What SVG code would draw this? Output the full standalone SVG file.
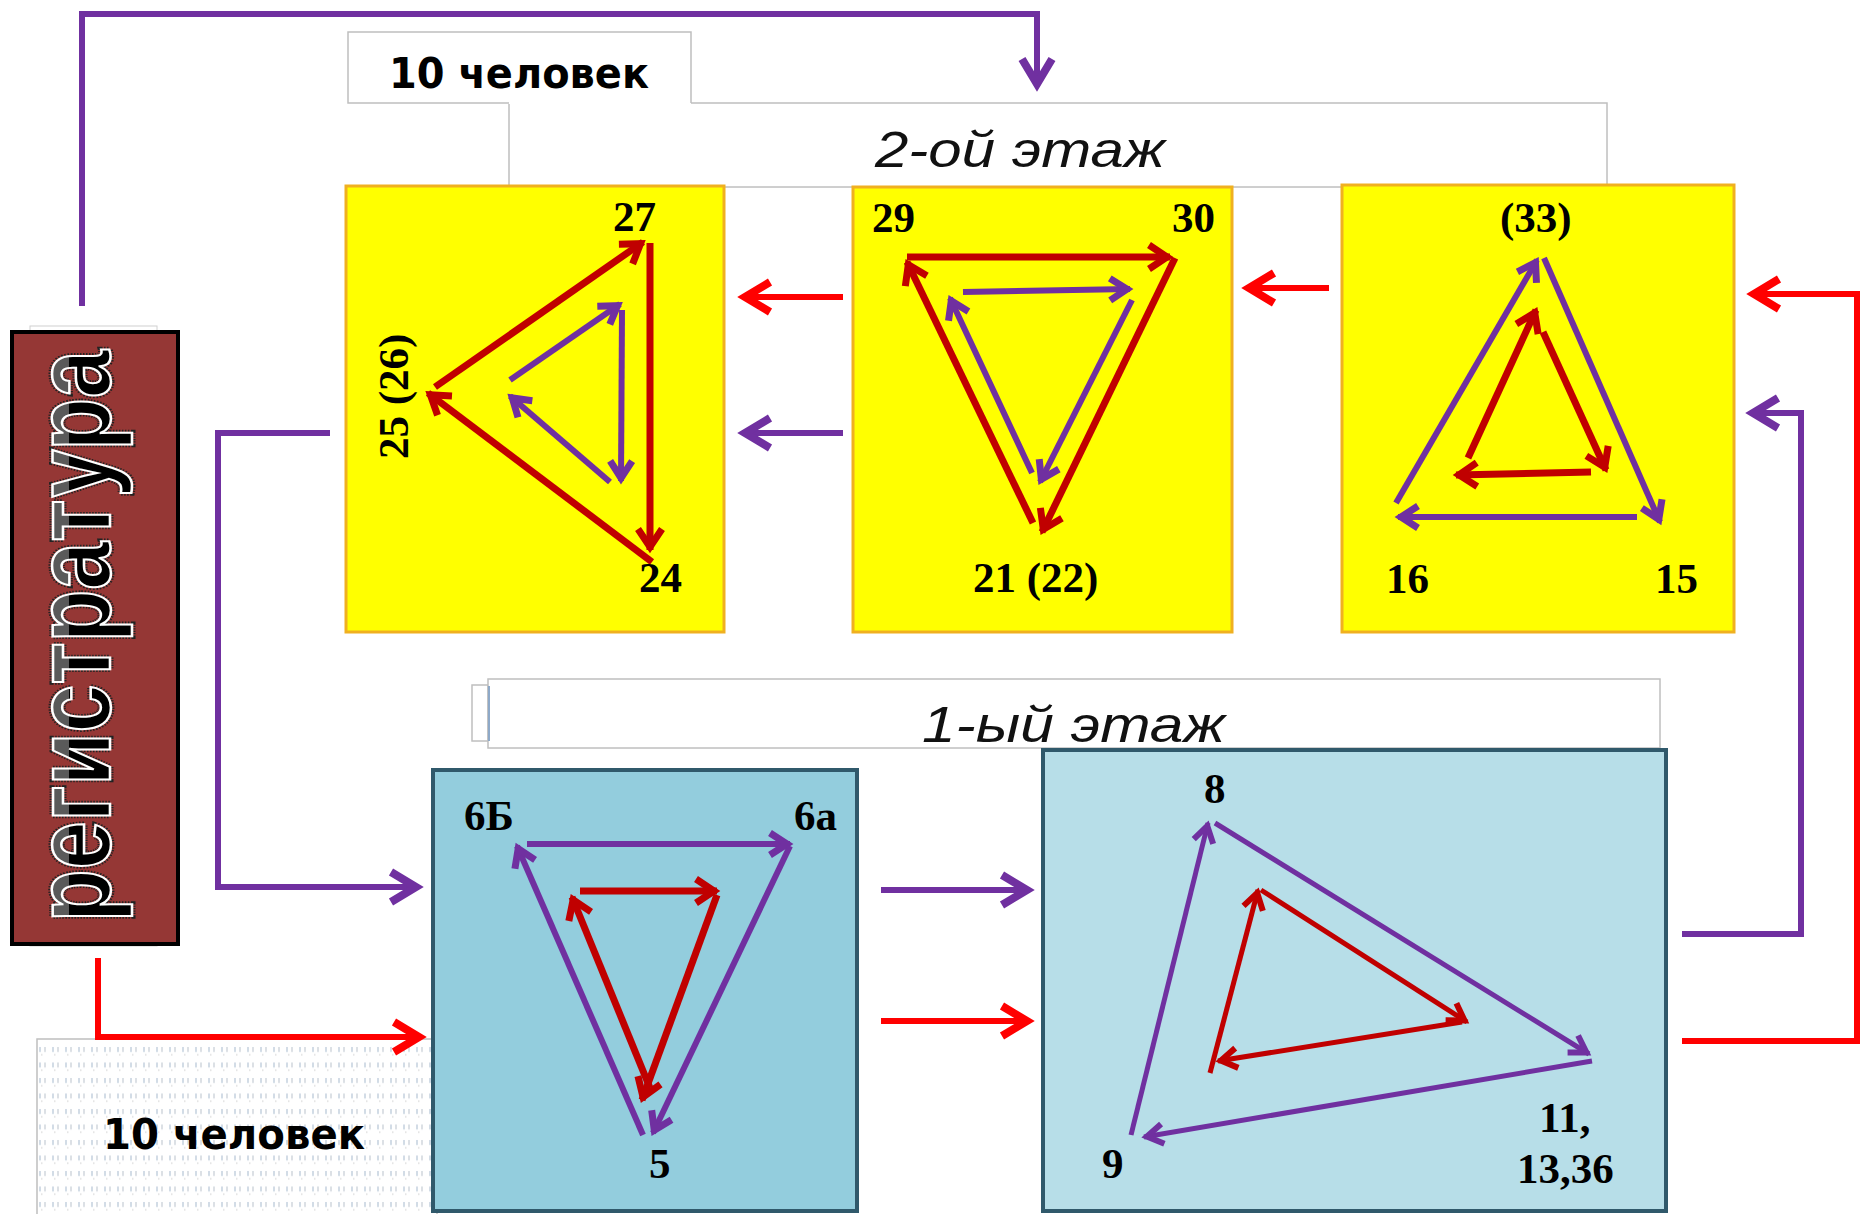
<svg xmlns="http://www.w3.org/2000/svg" width="1861" height="1214" viewBox="0 0 1861 1214">
<style>
.lbl{font-family:"Liberation Serif","Times New Roman",serif;font-weight:bold;font-size:43px;fill:#000}
.floor{font-family:"Liberation Sans",Arial,sans-serif;font-style:italic;font-size:50px;fill:#111}
.ppl{font-family:"DejaVu Sans","Liberation Sans",sans-serif;font-weight:bold;font-size:42px;fill:#000}
.ybox{fill:#FFFF00;stroke:#F0B020;stroke-width:3}
.bbox{stroke:#30596B;stroke-width:4}
.wbox{fill:#fff;stroke:#BFBFBF;stroke-width:1.5}
.cr{fill:none;stroke:#FF0000;stroke-width:6;marker-end:url(#mcr)}
.cp{fill:none;stroke:#7030A0;stroke-width:6;marker-end:url(#mcp)}
.tr{fill:none;stroke:#C00000;stroke-width:7;marker-end:url(#mtr)}
.tp{fill:none;stroke:#7030A0;stroke-width:6;marker-end:url(#mtp)}
.tr2{fill:none;stroke:#C00000;stroke-width:5;marker-end:url(#mtr2)}
.tp2{fill:none;stroke:#7030A0;stroke-width:5;marker-end:url(#mtp2)}
</style>
<defs>
<marker id="mcr" markerUnits="userSpaceOnUse" orient="auto" viewBox="-40 -25 50 50" markerWidth="50" markerHeight="50" refX="0" refY="0"><path d="M-28,-15 L-3,0 L-28,15" fill="none" stroke="#FF0000" stroke-width="8"/></marker>
<marker id="mcp" markerUnits="userSpaceOnUse" orient="auto" viewBox="-40 -25 50 50" markerWidth="50" markerHeight="50" refX="0" refY="0"><path d="M-28,-15 L-3,0 L-28,15" fill="none" stroke="#7030A0" stroke-width="8"/></marker>
<marker id="mtr" markerUnits="userSpaceOnUse" orient="auto" viewBox="-40 -25 50 50" markerWidth="50" markerHeight="50" refX="0" refY="0"><path d="M-21,-12 L-3,0 L-21,12" fill="none" stroke="#C00000" stroke-width="7"/></marker>
<marker id="mtp" markerUnits="userSpaceOnUse" orient="auto" viewBox="-40 -25 50 50" markerWidth="50" markerHeight="50" refX="0" refY="0"><path d="M-20,-11 L-3,0 L-20,11" fill="none" stroke="#7030A0" stroke-width="7"/></marker>
<marker id="mtr2" markerUnits="userSpaceOnUse" orient="auto" viewBox="-40 -25 50 50" markerWidth="50" markerHeight="50" refX="0" refY="0"><path d="M-19,-10 L-3,0 L-19,10" fill="none" stroke="#C00000" stroke-width="6"/></marker>
<marker id="mtp2" markerUnits="userSpaceOnUse" orient="auto" viewBox="-40 -25 50 50" markerWidth="50" markerHeight="50" refX="0" refY="0"><path d="M-19,-10 L-3,0 L-19,10" fill="none" stroke="#7030A0" stroke-width="6"/></marker>
<linearGradient id="regGrad" x1="0" y1="0" x2="0" y2="1">
<stop offset="0" stop-color="#5a5a5a"/><stop offset="0.47" stop-color="#5a5a5a"/><stop offset="0.47" stop-color="#000"/><stop offset="1" stop-color="#000"/>
</linearGradient>
<pattern id="noise" patternUnits="userSpaceOnUse" x="37" y="1046" width="13" height="15.5">
<rect x="2" y="1" width="2" height="5" fill="#b4c4d6"/>
<rect x="7" y="1" width="2" height="5" fill="#c4ccd4"/>
<rect x="4" y="8" width="1.5" height="1.5" fill="#c8c8c8"/>
</pattern>
</defs>

<g id="floor2-label">
<rect x="509" y="103" width="1098" height="84" class="wbox"/>
<text x="875" y="167" class="floor" textLength="290" lengthAdjust="spacingAndGlyphs">2-ой этаж</text>
</g>
<g id="people-top">
<rect x="348" y="32" width="343" height="72" fill="#fff"/>
<path d="M509,103 H348 V32 H691 V103" fill="none" stroke="#BFBFBF" stroke-width="1.5"/>
<text x="389" y="88" class="ppl" textLength="260" lengthAdjust="spacingAndGlyphs">10 человек</text>
</g>
<g id="floor1-label">
<rect x="472" y="685" width="16" height="56" class="wbox"/>
<rect x="488" y="679" width="1172" height="69" class="wbox"/>
<line x1="489" y1="686" x2="489" y2="741" stroke="#8EA9C8" stroke-width="2"/>
<text x="922" y="742" class="floor" textLength="303" lengthAdjust="spacingAndGlyphs">1-ый этаж</text>
</g>

<g id="reg">
<rect x="30" y="326" width="127" height="620" fill="#fff" stroke="#D0D0D0" stroke-width="1"/>
<rect x="12" y="332" width="166" height="612" fill="#953735" stroke="#000" stroke-width="4"/>
<g transform="translate(110,922) rotate(-90)">
<text x="0" y="0" font-family="Liberation Sans, Arial, sans-serif" font-weight="bold" font-size="108" textLength="572" lengthAdjust="spacingAndGlyphs" fill="none" stroke="#222" stroke-width="7" stroke-dasharray="1.5 1.5">регистратура</text>
<text x="0" y="0" font-family="Liberation Sans, Arial, sans-serif" font-weight="bold" font-size="108" textLength="572" lengthAdjust="spacingAndGlyphs" fill="url(#regGrad)" stroke="#fff" stroke-width="2.5">регистратура</text>
</g>
</g>

<g id="people-bottom">
<rect x="37" y="1039" width="400" height="190" class="wbox"/>
<rect x="38" y="1046" width="396" height="170" fill="url(#noise)" opacity="0.6"/>
<text x="103" y="1149" class="ppl" textLength="262" lengthAdjust="spacingAndGlyphs">10 человек</text>
</g>

<g id="room-27-24-25">
<rect x="346" y="186" width="378" height="446" class="ybox"/>
<path class="tr" d="M435,387 L643,242"/>
<path class="tr" d="M650,243 L650,550"/>
<path class="tr" d="M652,562 L428,393"/>
<path class="tp" d="M510,380 L620,304"/>
<path class="tp" d="M622,310 L621,481"/>
<path class="tp" d="M610,482 L510,396"/>
<text x="613" y="231" class="lbl">27</text>
<text x="639" y="592" class="lbl">24</text>
<text transform="translate(408,459) rotate(-90)" class="lbl">25 (26)</text>
</g>

<g id="room-29-30-21">
<rect x="853" y="187" width="379" height="445" class="ybox"/>
<path class="tr" d="M907,257 L1170,257"/>
<path class="tr" d="M1175,258 L1042,532"/>
<path class="tr" d="M1033,523 L907,262"/>
<path class="tp" d="M963,292 L1130,289"/>
<path class="tp" d="M1132,300 L1040,482"/>
<path class="tp" d="M1032,473 L950,298"/>
<text x="872" y="232" class="lbl">29</text>
<text x="1172" y="232" class="lbl">30</text>
<text x="973" y="592" class="lbl">21 (22)</text>
</g>

<g id="room-33-16-15">
<rect x="1342" y="185" width="392" height="447" class="ybox"/>
<path class="tp" d="M1396,503 L1537,260"/>
<path class="tp" d="M1544,258 L1660,522"/>
<path class="tp" d="M1637,517 L1398,517"/>
<path class="tr" d="M1468,458 L1536,310"/>
<path class="tr" d="M1543,332 L1606,470"/>
<path class="tr" d="M1591,472 L1456,475"/>
<text x="1500" y="232" class="lbl">(33)</text>
<text x="1386" y="593" class="lbl">16</text>
<text x="1655" y="593" class="lbl">15</text>
</g>

<g id="room-6b-6a-5">
<rect x="433" y="770" width="424" height="441" class="bbox" fill="#93CDDD"/>
<path class="tp" d="M527,844 L790,844"/>
<path class="tp" d="M790,846 L653,1133"/>
<path class="tp" d="M643,1135 L517,846"/>
<path class="tr" d="M580,891 L717,891"/>
<path class="tr" d="M717,895 L642,1100"/>
<path class="tr" d="M650,1088 L572,897"/>
<text x="464" y="830" class="lbl">6Б</text>
<text x="794" y="830" class="lbl">6а</text>
<text x="649" y="1178" class="lbl">5</text>
</g>

<g id="room-8-9-11">
<rect x="1043" y="750" width="623" height="461" class="bbox" fill="#B7DEE8"/>
<path class="tp2" d="M1131,1135 L1208,823"/>
<path class="tp2" d="M1215,823 L1589,1054"/>
<path class="tp2" d="M1592,1061 L1144,1137"/>
<path class="tr2" d="M1210,1073 L1258,890"/>
<path class="tr2" d="M1261,890 L1467,1022"/>
<path class="tr2" d="M1462,1022 L1218,1061"/>
<text x="1204" y="803" class="lbl" font-size="35">8</text>
<text x="1102" y="1178" class="lbl" font-size="37">9</text>
<text x="1539" y="1132" class="lbl">11,</text>
<text x="1517" y="1183" class="lbl">13,36</text>
</g>

<g id="connectors">
<path class="cp" d="M82,306 V14 H1037 V87"/>
<path class="cr" d="M98,958 V1037 H422"/>
<path class="cp" d="M330,433 H218 V887 H419"/>
<path class="cr" d="M843,297 H742"/>
<path class="cp" d="M843,433 H742"/>
<path class="cr" d="M1329,288 H1246"/>
<path class="cp" d="M881,890 H1030"/>
<path class="cr" d="M881,1021 H1030"/>
<path class="cr" d="M1682,1041 H1857 V294 H1751"/>
<path class="cp" d="M1682,934 H1801 V413 H1750"/>
</g>
</svg>
